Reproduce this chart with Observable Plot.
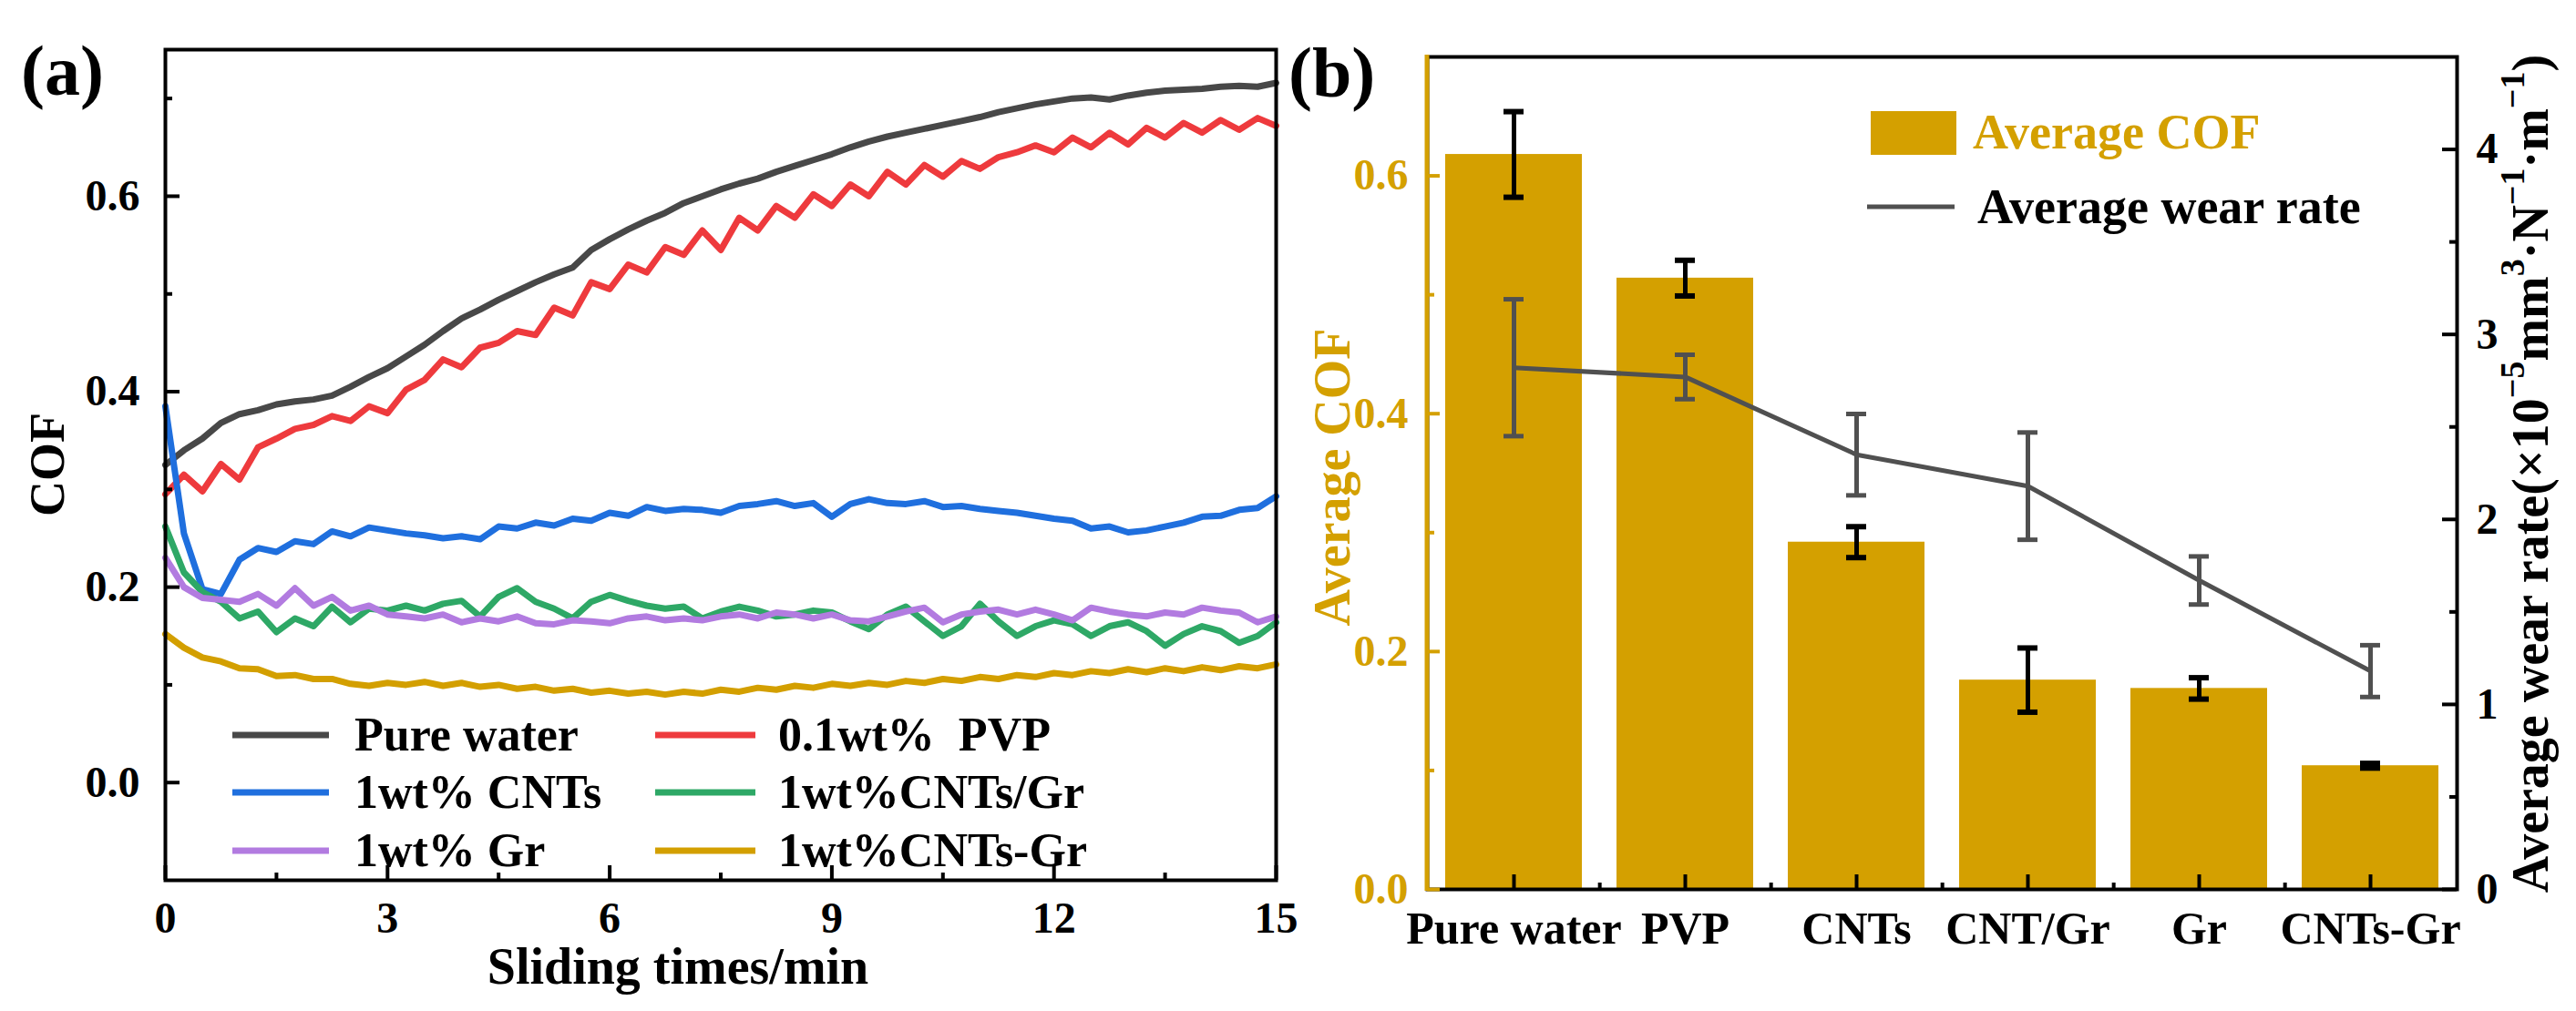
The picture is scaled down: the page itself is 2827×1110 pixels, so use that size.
<!DOCTYPE html>
<html><head><meta charset="utf-8">
<script src="https://cdn.jsdelivr.net/npm/d3@7"></script>
<script src="https://cdn.jsdelivr.net/npm/@observablehq/plot@0.6"></script>
<style>
html,body{margin:0;padding:0;background:#fff;}
#wrap{position:relative;width:2827px;height:1110px;overflow:hidden;background:#fff;}
#wrap svg{position:absolute;top:0;overflow:visible;}
</style></head><body><div id="wrap"></div>
<script>
// ---------- Panel (a) data ----------
const times = [
  0,0.25,0.5,0.75, 1,1.25,1.5,1.75, 2,2.25,2.5,2.75, 3,3.25,3.5,3.75,
  4,4.25,4.5,4.75, 5,5.25,5.5,5.75, 6,6.25,6.5,6.75, 7,7.25,7.5,7.75,
  8,8.25,8.5,8.75, 9,9.25,9.5,9.75, 10,10.25,10.5,10.75, 11,11.25,11.5,11.75,
  12,12.25,12.5,12.75, 13,13.25,13.5,13.75, 14,14.25,14.5,14.75, 15
];
const pureWater = [
  0.325,0.340,0.352,0.368, 0.377,0.381,0.387,0.390, 0.392,0.396,0.405,0.415, 0.424,0.436,0.448,0.462,
  0.475,0.484,0.494,0.503, 0.512,0.520,0.527,0.545, 0.556,0.566,0.575,0.583, 0.593,0.600,0.607,0.613,
  0.618,0.625,0.631,0.637, 0.643,0.650,0.656,0.661, 0.665,0.669,0.673,0.677, 0.681,0.686,0.690,0.694,
  0.697,0.700,0.701,0.699, 0.703,0.706,0.708,0.709, 0.710,0.712,0.713,0.712, 0.716
];
const pvp = [
  0.295,0.315,0.298,0.326, 0.310,0.343,0.352,0.362, 0.366,0.375,0.370,0.385, 0.378,0.402,0.412,0.433,
  0.425,0.445,0.450,0.462, 0.458,0.486,0.478,0.512, 0.505,0.530,0.522,0.548, 0.540,0.565,0.545,0.578,
  0.565,0.590,0.578,0.602, 0.590,0.612,0.600,0.625, 0.612,0.632,0.620,0.636, 0.628,0.640,0.645,0.652,
  0.645,0.660,0.650,0.665, 0.653,0.670,0.660,0.675, 0.665,0.678,0.668,0.680, 0.672
];
const cnts = [
  0.385,0.255,0.198,0.193, 0.228,0.240,0.236,0.247, 0.244,0.257,0.252,0.261, 0.258,0.255,0.253,0.250,
  0.252,0.249,0.262,0.260, 0.266,0.263,0.270,0.268, 0.276,0.273,0.282,0.278, 0.280,0.279,0.276,0.283,
  0.285,0.288,0.283,0.286, 0.272,0.285,0.290,0.286, 0.285,0.288,0.282,0.283, 0.280,0.278,0.276,0.273,
  0.270,0.268,0.260,0.262, 0.256,0.258,0.262,0.266, 0.272,0.273,0.279,0.281, 0.293
];
const cntsSlashGr = [
  0.262,0.215,0.195,0.185, 0.168,0.175,0.154,0.168, 0.160,0.180,0.164,0.178, 0.176,0.181,0.176,0.183,
  0.186,0.170,0.190,0.199, 0.185,0.178,0.168,0.185, 0.192,0.186,0.181,0.178, 0.180,0.168,0.175,0.180,
  0.176,0.170,0.172,0.176, 0.174,0.165,0.157,0.172, 0.180,0.165,0.150,0.160, 0.183,0.165,0.150,0.160,
  0.166,0.162,0.150,0.160, 0.164,0.155,0.140,0.152, 0.160,0.155,0.143,0.150, 0.164
];
const gr = [
  0.230,0.200,0.189,0.187, 0.185,0.193,0.181,0.199, 0.181,0.190,0.176,0.181, 0.172,0.170,0.168,0.172,
  0.164,0.168,0.165,0.170, 0.163,0.162,0.166,0.165, 0.163,0.168,0.170,0.166, 0.168,0.166,0.170,0.172,
  0.168,0.174,0.172,0.168, 0.172,0.166,0.165,0.170, 0.175,0.179,0.164,0.172, 0.175,0.177,0.172,0.177,
  0.172,0.166,0.179,0.175, 0.172,0.170,0.174,0.172, 0.179,0.176,0.174,0.164, 0.170
];
const cntsDashGr = [
  0.152,0.138,0.128,0.124, 0.117,0.116,0.109,0.110, 0.106,0.106,0.101,0.099, 0.102,0.100,0.103,0.099,
  0.102,0.098,0.100,0.096, 0.098,0.094,0.096,0.092, 0.094,0.091,0.093,0.090, 0.093,0.091,0.095,0.093,
  0.097,0.095,0.099,0.097, 0.101,0.099,0.102,0.100, 0.104,0.102,0.106,0.104, 0.108,0.106,0.110,0.108,
  0.112,0.110,0.114,0.112, 0.116,0.113,0.117,0.114, 0.118,0.115,0.119,0.117, 0.121
];
const seriesNames = ["Pure water", "0.1wt%  PVP", "1wt% CNTs", "1wt%CNTs/Gr", "1wt% Gr", "1wt%CNTs-Gr"];
const seriesColors = ["#484848", "#ee3a3d", "#1f6fde", "#2ea866", "#b27be0", "#d39f00"];
const seriesValues = [pureWater, pvp, cnts, cntsSlashGr, gr, cntsDashGr];
const xMajorTicks = [0, 3, 6, 9, 12, 15];
const xMinorTicks = [1.5, 4.5, 7.5, 10.5, 13.5];
const yMajorTicksA = [0, 0.2, 0.4, 0.6];
const yMinorTicksA = [0.1, 0.3, 0.5, 0.7];

// ---------- Panel (b) data ----------
const categories = ["Pure water", "PVP", "CNTs", "CNT/Gr", "Gr", "CNTs-Gr"];
const avgCOF  = [0.618, 0.514, 0.292, 0.176, 0.169, 0.104];
const cofErr  = [0.036, 0.015, 0.013, 0.027, 0.009, 0.002];
const wearRate = [2.82, 2.77, 2.35, 2.18, 1.67, 1.18];
const wearErr  = [0.37, 0.12, 0.22, 0.29, 0.13, 0.14];
const cofTicks = [0, 0.2, 0.4, 0.6];
const cofMinorTicks = [0.1, 0.3, 0.5];
const wearTicks = [0, 1, 2, 3, 4];
const wearMinorTicks = [0.5, 1.5, 2.5, 3.5];
const wearMax = 4.5, cofMax = 0.7;

const FONT = "'Liberation Serif','Times New Roman',serif";
const GOLD = "#d4a000";
const GRAY = "#505050";
const K = cofMax / wearMax; // maps wear rate onto the COF axis range

const wrap = document.getElementById("wrap");

// ---------- Panel (a) ----------
const WA = 1440, HA = 1110, mLA = 181, mRA = 40, mTA = 54, mBA = 144;
const fwA = WA - mLA - mRA, fhA = HA - mTA - mBA;
const lineRows = [];
seriesValues.forEach((vals, i) => vals.forEach((v, j) => lineRows.push({t: times[j], v, s: seriesNames[i]})));

const svgA = Plot.plot({
  width: WA, height: HA,
  marginLeft: mLA, marginRight: mRA, marginTop: mTA, marginBottom: mBA,
  style: {background: "transparent", fontFamily: FONT, fontSize: "48px", fontWeight: "bold", color: "#000", overflow: "visible"},
  x: {domain: [0, 15]},
  y: {domain: [-0.1, 0.75]},
  color: {domain: seriesNames, range: seriesColors},
  marks: [
    Plot.line(lineRows, {x: "t", y: "v", z: "s", stroke: "s", strokeWidth: 7, strokeLinejoin: "round"}),
    Plot.frame({stroke: "#000", strokeWidth: 4}),
    Plot.axisX({ticks: xMajorTicks, tickSize: 0, tickPadding: 23, label: null, tickFormat: d => String(d)}),
    Plot.axisY({ticks: yMajorTicksA, tickSize: 0, tickPadding: 28, label: null, tickFormat: d3.format(".1f")}),
    // inward ticks
    Plot.ruleX(xMajorTicks, {x: d => d, stroke: "#000", strokeWidth: 4, insetTop: fhA - 16}),
    Plot.ruleX(xMinorTicks, {x: d => d, stroke: "#000", strokeWidth: 4, insetTop: fhA - 8}),
    Plot.ruleY(yMajorTicksA, {y: d => d, stroke: "#000", strokeWidth: 4, insetRight: fwA - 16}),
    Plot.ruleY(yMinorTicksA, {y: d => d, stroke: "#000", strokeWidth: 4, insetRight: fwA - 8})
  ]
});
svgA.style.left = "0px";
wrap.appendChild(svgA);

const gA = d3.select(svgA).append("g").attr("font-family", FONT).attr("font-weight", "bold").attr("text-anchor", "start");
gA.append("text").attr("x", 23).attr("y", 104).attr("font-size", 78).attr("fill", "#000").text("(a)");
gA.append("text").attr("transform", "translate(52,510) rotate(-90)").attr("text-anchor", "middle")
  .attr("dominant-baseline", "central").attr("font-size", 54).attr("fill", "#000").text("COF");
gA.append("text").attr("x", 744).attr("y", 1080).attr("text-anchor", "middle").attr("font-size", 56).attr("fill", "#000").text("Sliding times/min");
// legend (a)
const legRowY = [807, 870, 934];
const legLineX = [[255, 361], [719, 829]];
const legTextX = [389, 854];
seriesNames.forEach((name, i) => {
  const col = i % 2, row = Math.floor(i / 2);
  gA.append("line").attr("x1", legLineX[col][0]).attr("x2", legLineX[col][1])
    .attr("y1", legRowY[row]).attr("y2", legRowY[row]).attr("stroke", seriesColors[i]).attr("stroke-width", 7);
  gA.append("text").attr("x", legTextX[col]).attr("y", legRowY[row] + 17).attr("font-size", 52)
    .attr("text-anchor", "start").attr("fill", "#000").style("white-space", "pre").text(name);
});

// ---------- Panel (b) ----------
const WB = 1417, HB = 1110, mLB = 156, mRB = 131, mTB = 62, mBB = 134;
const fwB = WB - mLB - mRB, fhB = HB - mTB - mBB;
const padIn = 0.2, padOut = 0.1;
const stepB = fwB / (categories.length - padIn + 2 * padOut);
const barRows = categories.map((c, i) => ({cat: c, cof: avgCOF[i], cofErr: cofErr[i], wear: wearRate[i], wearErr: wearErr[i]}));
const capInset = 64;
const svgB = Plot.plot({
  width: WB, height: HB,
  marginLeft: mLB, marginRight: mRB, marginTop: mTB, marginBottom: mBB,
  style: {background: "transparent", fontFamily: FONT, fontSize: "48px", fontWeight: "bold", color: "#000", overflow: "visible"},
  x: {domain: categories, paddingInner: padIn, paddingOuter: padOut},
  y: {domain: [0, cofMax]},
  marks: [
    Plot.barY(barRows, {x: "cat", y: "cof", fill: GOLD}),
    Plot.ruleX(barRows, {x: "cat", y1: d => d.cof - d.cofErr, y2: d => d.cof + d.cofErr, stroke: "#000", strokeWidth: 5}),
    Plot.tickY(barRows, {x: "cat", y: d => d.cof - d.cofErr, stroke: "#000", strokeWidth: 6, insetLeft: capInset, insetRight: capInset}),
    Plot.tickY(barRows, {x: "cat", y: d => d.cof + d.cofErr, stroke: "#000", strokeWidth: 6, insetLeft: capInset, insetRight: capInset}),
    Plot.line(barRows, {x: "cat", y: d => d.wear * K, stroke: GRAY, strokeWidth: 5}),
    Plot.ruleX(barRows, {x: "cat", y1: d => (d.wear - d.wearErr) * K, y2: d => (d.wear + d.wearErr) * K, stroke: GRAY, strokeWidth: 5}),
    Plot.tickY(barRows, {x: "cat", y: d => (d.wear - d.wearErr) * K, stroke: GRAY, strokeWidth: 5, insetLeft: capInset, insetRight: capInset}),
    Plot.tickY(barRows, {x: "cat", y: d => (d.wear + d.wearErr) * K, stroke: GRAY, strokeWidth: 5, insetLeft: capInset, insetRight: capInset}),
    Plot.frame({stroke: "#000", strokeWidth: 4}),
    Plot.axisX({tickSize: 0, tickPadding: 24, fontSize: 50, label: null}),
    Plot.axisY({ticks: cofTicks, tickSize: 0, tickPadding: 21, tickFormat: d3.format(".1f"), color: GOLD, label: null}),
    Plot.axisY({anchor: "right", ticks: wearTicks.map(v => v * K), tickSize: 0, tickPadding: 21, tickFormat: d => String(Math.round(d / K)), label: null}),
    // inward ticks
    Plot.ruleX(categories, {x: d => d, stroke: "#000", strokeWidth: 4, insetTop: fhB - 16}),
    Plot.ruleX(categories.slice(0, -1), {x: d => d, dx: stepB / 2, stroke: "#000", strokeWidth: 4, insetTop: fhB - 7}),
    Plot.ruleY(cofTicks, {y: d => d, stroke: GOLD, strokeWidth: 4, insetRight: fwB - 14}),
    Plot.ruleY(cofMinorTicks, {y: d => d, stroke: GOLD, strokeWidth: 4, insetRight: fwB - 8}),
    Plot.ruleY(wearTicks, {y: d => d * K, stroke: "#000", strokeWidth: 4, insetLeft: fwB - 16}),
    Plot.ruleY(wearMinorTicks, {y: d => d * K, stroke: "#000", strokeWidth: 4, insetLeft: fwB - 8})
  ]
});
svgB.style.left = "1410px";
wrap.appendChild(svgB);

const gB = d3.select(svgB).append("g").attr("font-family", FONT).attr("font-weight", "bold").attr("text-anchor", "start");
// gold left spine
gB.append("line").attr("x1", mLB).attr("x2", mLB).attr("y1", mTB - 2).attr("y2", HB - mBB + 2).attr("stroke", GOLD).attr("stroke-width", 5);
gB.append("text").attr("x", 4).attr("y", 106).attr("font-size", 78).attr("fill", "#000").text("(b)");
gB.append("text").attr("transform", "translate(52,524) rotate(-90)").attr("text-anchor", "middle")
  .attr("dominant-baseline", "central").attr("font-size", 56).attr("fill", GOLD).text("Average COF");
const rt = gB.append("text").attr("transform", "translate(1367,520) rotate(-90)").attr("text-anchor", "middle")
  .attr("dominant-baseline", "central").attr("font-size", 56).attr("fill", "#000");
const parts = [["Average wear rate(\u00d710", 0], ["\u22125", 1], ["mm", 0], ["3", 1], ["\u00b7N", 0], ["\u22121", 1], ["\u00b7m", 0], ["\u22121", 1], [")", 0]];
let prevSup = 0;
parts.forEach(([s, sup]) => {
  const ts = rt.append("tspan").text(s);
  if (sup) ts.attr("font-size", 38);
  const dy = (sup ? -20 : 0) - (prevSup ? -20 : 0);
  if (dy) ts.attr("dy", dy);
  prevSup = sup;
});
// legend (b)
gB.append("rect").attr("x", 643).attr("y", 122).attr("width", 94).attr("height", 48).attr("fill", GOLD);
gB.append("text").attr("x", 755).attr("y", 163).attr("font-size", 54).attr("fill", GOLD).text("Average COF");
gB.append("line").attr("x1", 639).attr("x2", 735).attr("y1", 227).attr("y2", 227).attr("stroke", GRAY).attr("stroke-width", 5);
gB.append("text").attr("x", 760).attr("y", 245).attr("font-size", 54).attr("fill", "#000").text("Average wear rate");
</script></body></html>
